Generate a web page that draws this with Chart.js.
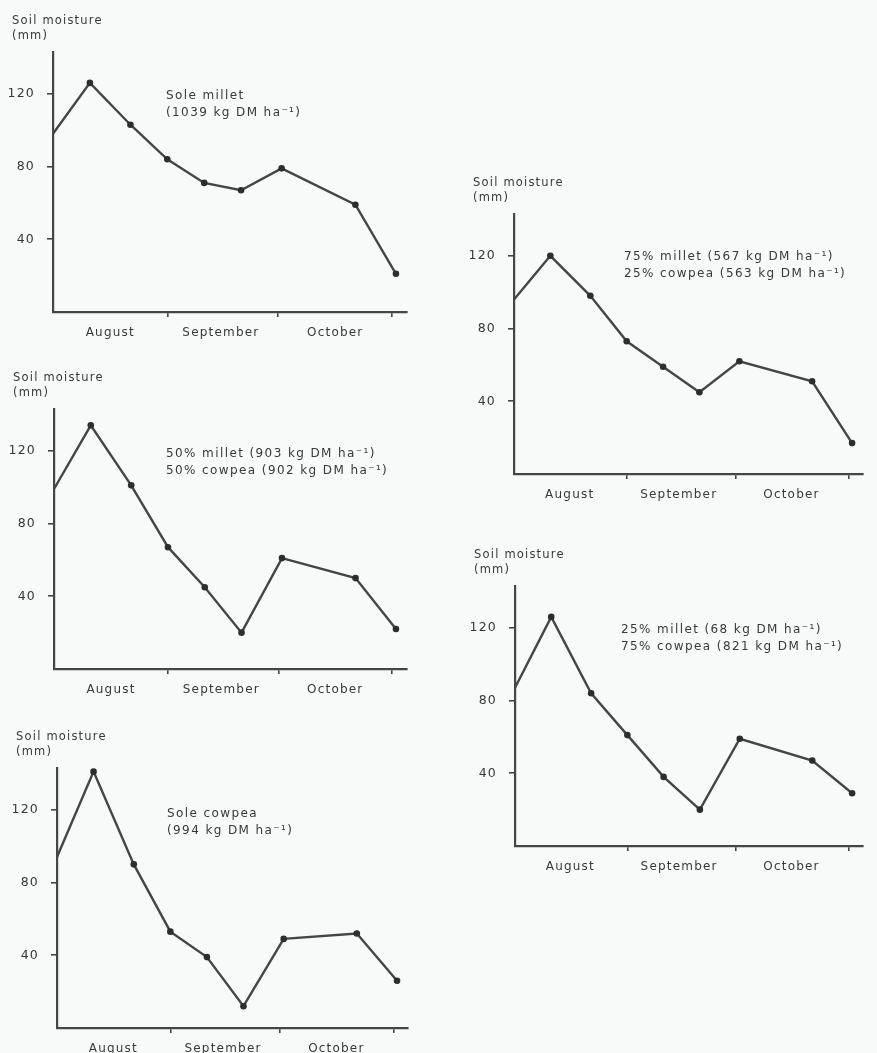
<!DOCTYPE html>
<html>
<head>
<meta charset="utf-8">
<script src="https://cdn.jsdelivr.net/npm/chart.js@4.4.1/dist/chart.umd.min.js"></script>
<style>
  html, body { margin: 0; padding: 0; background: #f6fbf9; }
  body { width: 877px; height: 1053px; position: relative; overflow: hidden; }
  canvas { position: absolute; }
</style>
</head>
<body>
<script>
// Month labels sit between the month-end tick marks on the day axis
const months = ['August', 'September', 'October'];
const monthEnds = [31, 61, 92];
const yTicks = [40, 80, 120];

// Sampling dates, in days from 1 August
const sampleDays = [0, 10, 21, 31, 41, 51, 62, 82, 93];

// Soil moisture (mm) for each cropping treatment
const soleMillet       = [98, 126, 103, 84, 71, 67, 79, 59, 21];
const millet50Cowpea50 = [99, 134, 101, 67, 45, 20, 61, 50, 22];
const soleCowpea       = [94, 141, 90, 53, 39, 12, 49, 52, 26];
const millet75Cowpea25 = [96, 120, 98, 73, 59, 45, 62, 51, 17];
const millet25Cowpea75 = [87, 126, 84, 61, 38, 20, 59, 47, 29];

const yTitle = ['Soil moisture', '(mm)'];

const INK = '#444645';
const DOT = '#2c2e2d';
const TXT = '#373938';
const FONT_FAMILY = '"DejaVu Sans", sans-serif';
const SPACING = '1.2px';

// Plot boxes on the page: [left, top, right, bottom] of each chart area
const panels = [
  { box: [53, 52, 407, 312],   values: soleMillet,
    note: ['Sole millet', '(1039 kg DM ha\u207B\u00B9)'], noteAt: [113, 44] },
  { box: [54, 409, 407, 669],  values: millet50Cowpea50,
    note: ['50% millet (903 kg DM ha\u207B\u00B9)', '50% cowpea (902 kg DM ha\u207B\u00B9)'], noteAt: [112, 45] },
  { box: [57, 768, 408, 1028], values: soleCowpea,
    note: ['Sole cowpea', '(994 kg DM ha\u207B\u00B9)'], noteAt: [110, 46] },
  { box: [514, 214, 863, 474], values: millet75Cowpea25,
    note: ['75% millet (567 kg DM ha\u207B\u00B9)', '25% cowpea (563 kg DM ha\u207B\u00B9)'], noteAt: [110, 43] },
  { box: [515, 586, 863, 846], values: millet25Cowpea75,
    note: ['25% millet (68 kg DM ha\u207B\u00B9)', '75% cowpea (821 kg DM ha\u207B\u00B9)'], noteAt: [106, 44] }
];

const AXIS_W = 53;   // room left of the plot for the y tick labels
const TOP_PAD = 52;  // room above the plot for the axis title
const RIGHT_PAD = 20;
const AXIS_H = 32;   // room below the plot for the month names

// Letter spacing for all canvas text, and the axis title / treatment notes
const textPlugin = {
  id: 'panelText',
  beforeDraw(chart) {
    chart.ctx.letterSpacing = SPACING;
  },
  afterDraw(chart) {
    const ctx = chart.ctx;
    const a = chart.chartArea;
    const note = chart.options.plugins.panelText;
    ctx.save();
    ctx.letterSpacing = SPACING;
    ctx.fillStyle = TXT;
    ctx.textBaseline = 'middle';
    ctx.textAlign = 'left';
    ctx.font = '11.5px ' + FONT_FAMILY;
    ctx.fillText(yTitle[0], a.left - 41, a.top - 31);
    ctx.fillText(yTitle[1], a.left - 41, a.top - 16);
    ctx.font = '12px ' + FONT_FAMILY;
    ctx.letterSpacing = '1.4px';
    note.lines.forEach((t, i) => {
      ctx.fillText(t, a.left + note.at[0], a.top + note.at[1] + i * 17);
    });
    ctx.restore();
  }
};

panels.forEach(p => {
  const [L, T, R, B] = p.box;
  const canvas = document.createElement('canvas');
  const w = (R - L) + AXIS_W + RIGHT_PAD;
  const h = (B - T) + TOP_PAD + AXIS_H;
  canvas.width = w;
  canvas.height = h;
  canvas.style.left = (L - AXIS_W) + 'px';
  canvas.style.top = (T - TOP_PAD) + 'px';
  canvas.style.width = w + 'px';
  canvas.style.height = h + 'px';
  document.body.appendChild(canvas);

  new Chart(canvas, {
    type: 'line',
    data: {
      datasets: [{
        data: sampleDays.map((d, i) => ({ x: d, y: p.values[i] })),
        borderColor: INK,
        borderWidth: 2.4,
        tension: 0,
        fill: false,
        clip: false,
        pointRadius: c => (c.dataIndex === 0 ? 0 : 3.3),
        pointBackgroundColor: DOT,
        pointBorderColor: DOT,
        pointBorderWidth: 0
      }]
    },
    options: {
      responsive: false,
      animation: false,
      events: [],
      devicePixelRatio: 1,
      layout: { autoPadding: false, padding: { left: 0, top: TOP_PAD, right: RIGHT_PAD, bottom: 0 } },
      plugins: {
        legend: { display: false },
        tooltip: { enabled: false },
        title: { display: false },
        panelText: { lines: p.note, at: p.noteAt }
      },
      scales: {
        x: {
          type: 'linear',
          min: 0,
          max: 96,
          afterBuildTicks: s => { s.ticks = monthEnds.map(v => ({ value: v })); },
          afterFit: s => { s.height = AXIS_H; s.paddingLeft = 0; s.paddingRight = 0; },
          grid: { drawOnChartArea: false, drawTicks: true, tickLength: 5, color: INK, lineWidth: 1.6 },
          border: { display: true, color: INK, width: 2.2 },
          ticks: {
            autoSkip: false,
            maxRotation: 0,
            labelOffset: -57,
            padding: 9,
            color: TXT,
            font: { family: FONT_FAMILY, size: 12 },
            callback: (v, i) => months[i]
          }
        },
        y: {
          min: 0,
          max: 143,
          afterBuildTicks: s => { s.ticks = yTicks.map(v => ({ value: v })); },
          afterFit: s => { s.width = AXIS_W; s.paddingTop = 0; s.paddingBottom = 0; },
          grid: { drawOnChartArea: false, drawTicks: true, tickLength: 6, color: INK, lineWidth: 1.6 },
          border: { display: true, color: INK, width: 2.2 },
          ticks: {
            padding: 12,
            color: TXT,
            font: { family: FONT_FAMILY, size: 12.5 },
            callback: v => String(v)
          }
        }
      }
    },
    plugins: [textPlugin]
  });
});
</script>
</body>
</html>
